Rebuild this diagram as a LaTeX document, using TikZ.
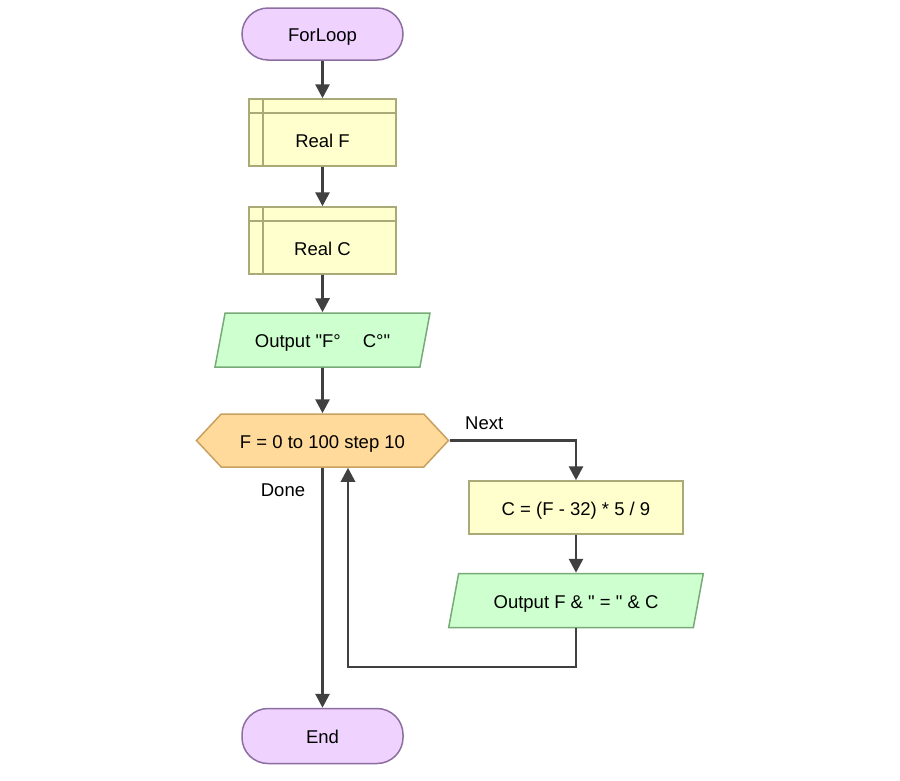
\documentclass[tikz,border=0pt]{standalone}
\usepackage{fontspec}
\setmainfont{Liberation Sans}[Ligatures=TeXOff]
\usetikzlibrary{arrows.meta, shapes.geometric, shapes.symbols}

\definecolor{term fill}{RGB}{240,210,255}
\definecolor{term line}{RGB}{140,110,160}
\definecolor{decl fill}{RGB}{255,255,206}
\definecolor{decl line}{RGB}{170,170,120}
\definecolor{io fill}{RGB}{206,255,206}
\definecolor{io line}{RGB}{120,170,120}
\definecolor{loop fill}{RGB}{255,218,155}
\definecolor{loop line}{RGB}{200,160,95}
\definecolor{wire}{RGB}{64,64,64}

\tikzstyle{base}=[inner sep=0pt, line width=1.5pt, font=\fontsize{18.5}{22}\selectfont, text height=15pt, text depth=0pt]
\tikzstyle{terminal}=[base, rectangle, rounded corners=26pt, fill=term fill, draw=term line, minimum width=161pt]
\tikzstyle{decl}=[base, rectangle, fill=decl fill, draw=decl line, minimum width=147pt, minimum height=67pt,
	text height=29pt,
	path picture={\draw[decl line, line width=1.5pt]
		([xshift=14pt]path picture bounding box.north west) -- ([xshift=14pt]path picture bounding box.south west)
		([yshift=-14pt]path picture bounding box.north west) -- ([yshift=-14pt]path picture bounding box.north east);}]
\tikzstyle{process}=[base, rectangle, fill=decl fill, draw=decl line, minimum width=214pt, minimum height=53pt]
\tikzstyle{io}=[base, trapezium, trapezium left angle=65, trapezium right angle=115, trapezium stretches=true,
	fill=io fill, draw=io line, minimum height=54pt]
\tikzstyle{loopdecl}=[base, signal, signal to=west and east, signal pointer angle=94,
	fill=loop fill, draw=loop line, minimum width=252pt, minimum height=53pt]
\tikzstyle{flow}=[wire, line width=2.8pt, -{Triangle[width=14pt,length=14pt]}]
\tikzstyle{tag}=[inner sep=0pt, font=\fontsize{18.5}{22}\selectfont]

\begin{document}
\begin{tikzpicture}[x=1pt, y=-1pt]
	\useasboundingbox[fill=white] (0,0) rectangle (900,780);

	% Main column
	\node[terminal, minimum height=52pt] (start) at (322.5, 34) {ForLoop};
	\node[decl] (realF) at (322.5, 132.5) {Real F};
	\node[decl] (realC) at (322.5, 240.5) {Real C};
	\node[io, minimum width=215pt] (outHead) at (322.5, 340) {Output "F°\hspace{22pt}C°"};
	\node[loopdecl] (loop) at (322.5, 440.5) {F = 0 to 100 step 10};
	\node[terminal, minimum height=55pt] (stop) at (322.5, 736) {End};

	% Loop body
	\node[process] (calc) at (576, 507.5) {C = (F - 32) * 5 / 9};
	\node[io, minimum width=255pt] (outRow) at (576, 600.5) {Output F \& " = " \& C};

	% Connectors
	\foreach \a/\b in {start/realF, realF/realC, realC/outHead, outHead/loop, calc/outRow}{ \draw[flow] (\a) -- (\b); }

	\draw[flow] (loop.east) -| (calc.north);
	\node[tag, anchor=west] (next) at (465, 423) {Next};

	\coordinate (ret) at (348, 667);
	\draw[flow] (outRow.south) |- (ret) -- (ret |- loop.south);

	\draw[flow] (loop.south) -- (stop.north);
	\node[tag] (done) at (283, 490) {Done};
\end{tikzpicture}
\end{document}
